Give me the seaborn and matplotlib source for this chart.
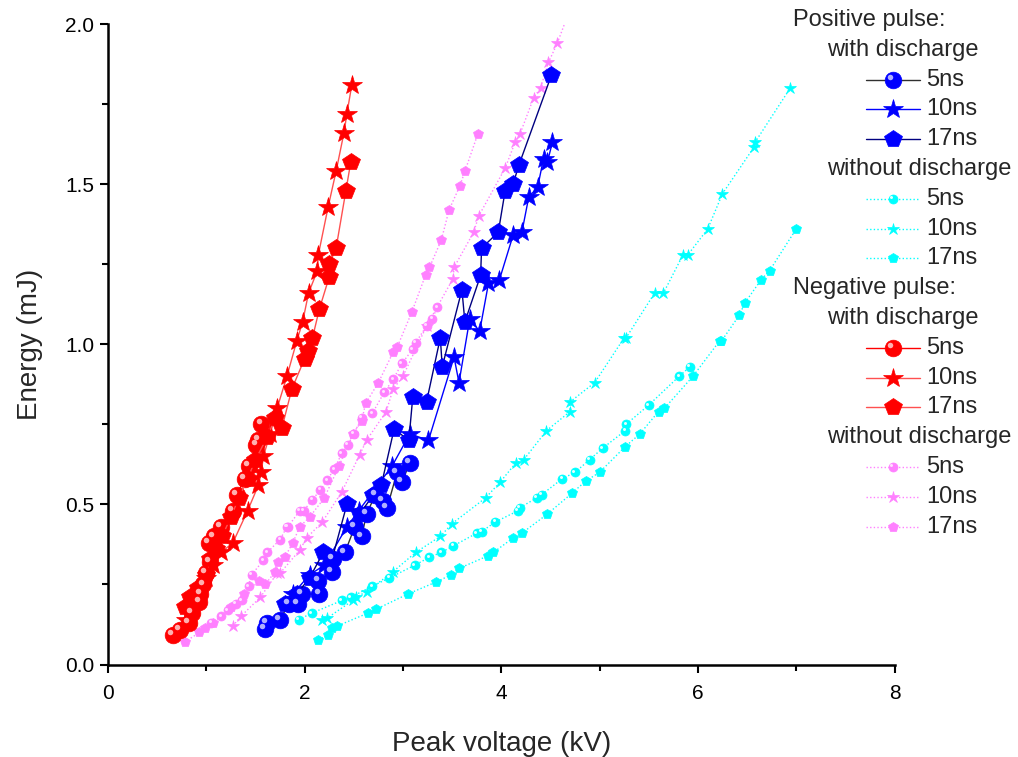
import numpy as np
import pandas as pd
import matplotlib
matplotlib.use("Agg")
import matplotlib.pyplot as plt
import matplotlib.transforms as mtransforms
from matplotlib.lines import Line2D
import seaborn as sns

# ---------------- data (Peak voltage kV, Energy mJ) ----------------
# Positive pulse, with discharge
pos_wd_5_v = [1.60, 1.62, 1.75, 1.84, 1.93, 1.97, 2.15, 2.14, 2.28, 2.29, 2.41, 2.51, 2.58, 2.63, 2.72, 2.80, 2.84, 2.94, 2.99, 3.07]
pos_wd_5_e = [0.11, 0.13, 0.14, 0.19, 0.19, 0.22, 0.22, 0.26, 0.29, 0.33, 0.35, 0.43, 0.40, 0.47, 0.53, 0.51, 0.49, 0.60, 0.57, 0.63]
pos_wd_10_v = [1.88, 2.05, 2.20, 2.43, 2.55, 2.89, 3.07, 3.26, 3.52, 3.57, 3.68, 3.78, 3.87, 3.98, 4.12, 4.21, 4.28, 4.37, 4.43, 4.47, 4.52]
pos_wd_10_e = [0.22, 0.28, 0.31, 0.43, 0.48, 0.62, 0.72, 0.70, 0.96, 0.88, 1.08, 1.04, 1.19, 1.20, 1.34, 1.35, 1.46, 1.49, 1.58, 1.57, 1.63]
pos_wd_17_v = [1.80, 1.92, 2.05, 2.19, 2.28, 2.43, 2.56, 2.70, 2.78, 2.91, 3.06, 3.10, 3.24, 3.38, 3.40, 3.60, 3.63, 3.79, 3.80, 3.97, 4.04, 4.12, 4.18, 4.51]
pos_wd_17_e = [0.19, 0.22, 0.27, 0.35, 0.33, 0.50, 0.47, 0.53, 0.56, 0.735, 0.70, 0.835, 0.82, 1.02, 0.93, 1.17, 1.07, 1.215, 1.30, 1.35, 1.48, 1.50, 1.56, 1.84]

# Positive pulse, without discharge
pos_wo_5_v = [1.94, 2.07, 2.38, 2.47, 2.69, 2.86, 3.12, 3.27, 3.39, 3.51, 3.75, 3.80, 3.94, 4.17, 4.19, 4.36, 4.41, 4.62, 4.75, 4.90, 5.03, 5.26, 5.27, 5.50, 5.81, 5.92]
pos_wo_5_e = [0.14, 0.16, 0.20, 0.21, 0.245, 0.27, 0.31, 0.335, 0.35, 0.37, 0.41, 0.415, 0.445, 0.48, 0.49, 0.52, 0.53, 0.58, 0.60, 0.64, 0.675, 0.73, 0.75, 0.81, 0.90, 0.93]
pos_wo_10_v = [2.18, 2.23, 2.49, 2.52, 2.63, 2.90, 3.13, 3.38, 3.50, 3.84, 3.99, 4.15, 4.23, 4.46, 4.70, 4.70, 4.95, 5.25, 5.27, 5.56, 5.65, 5.85, 5.90, 6.10, 6.25, 6.57, 6.58, 6.94]
pos_wo_10_e = [0.14, 0.145, 0.20, 0.21, 0.227, 0.29, 0.35, 0.40, 0.44, 0.52, 0.57, 0.63, 0.64, 0.73, 0.79, 0.82, 0.88, 1.02, 1.02, 1.16, 1.16, 1.28, 1.28, 1.36, 1.47, 1.615, 1.63, 1.80]
pos_wo_17_v = [2.14, 2.24, 2.28, 2.33, 2.64, 2.73, 3.05, 3.34, 3.49, 3.57, 3.87, 3.92, 4.12, 4.21, 4.47, 4.72, 4.86, 5.00, 5.26, 5.41, 5.60, 5.66, 5.95, 6.22, 6.24, 6.42, 6.48, 6.64, 6.73, 7.00]
pos_wo_17_e = [0.077, 0.092, 0.113, 0.12, 0.16, 0.173, 0.22, 0.258, 0.28, 0.30, 0.34, 0.35, 0.395, 0.41, 0.47, 0.535, 0.573, 0.60, 0.68, 0.72, 0.79, 0.80, 0.90, 1.01, 1.01, 1.09, 1.13, 1.20, 1.23, 1.36]

# Negative pulse, with discharge
neg_wd_5_v = [0.66, 0.73, 0.82, 0.85, 0.93, 0.94, 0.97, 1.00, 1.04, 1.03, 1.08, 1.15, 1.27, 1.31, 1.39, 1.43, 1.51, 1.53, 1.56]
neg_wd_5_e = [0.092, 0.108, 0.13, 0.16, 0.195, 0.22, 0.25, 0.285, 0.32, 0.38, 0.40, 0.43, 0.48, 0.53, 0.58, 0.62, 0.685, 0.70, 0.75]
neg_wd_10_v = [0.79, 0.85, 0.92, 1.00, 1.07, 1.15, 1.27, 1.42, 1.53, 1.56, 1.58, 1.65, 1.72, 1.82, 1.92, 1.98, 2.04, 2.13, 2.14, 2.24, 2.32, 2.40, 2.43, 2.48]
neg_wd_10_e = [0.14, 0.19, 0.22, 0.27, 0.31, 0.35, 0.38, 0.48, 0.56, 0.60, 0.65, 0.72, 0.80, 0.90, 1.01, 1.07, 1.16, 1.23, 1.28, 1.43, 1.54, 1.66, 1.72, 1.81]
neg_wd_17_v = [0.78, 0.83, 0.92, 1.00, 1.04, 1.10, 1.16, 1.25, 1.33, 1.42, 1.50, 1.62, 1.70, 1.77, 1.87, 2.00, 2.03, 2.08, 2.15, 2.25, 2.25, 2.32, 2.42, 2.47]
neg_wd_17_e = [0.18, 0.21, 0.24, 0.28, 0.33, 0.36, 0.40, 0.46, 0.52, 0.58, 0.64, 0.71, 0.77, 0.74, 0.86, 0.955, 0.98, 1.02, 1.11, 1.21, 1.25, 1.30, 1.48, 1.57]

# Negative pulse, without discharge
neg_wo_5_v = [1.05, 1.15, 1.22, 1.30, 1.36, 1.43, 1.46, 1.58, 1.62, 1.75, 1.82, 1.83, 1.95, 1.99, 2.08, 2.16, 2.23, 2.30, 2.38, 2.44, 2.50, 2.58, 2.69, 2.81, 2.90, 2.99, 3.10, 3.13, 3.24, 3.30, 3.35]
neg_wo_5_e = [0.13, 0.15, 0.17, 0.19, 0.20, 0.245, 0.28, 0.325, 0.35, 0.39, 0.43, 0.43, 0.48, 0.48, 0.515, 0.545, 0.576, 0.61, 0.66, 0.686, 0.72, 0.77, 0.785, 0.85, 0.89, 0.94, 0.985, 1.005, 1.057, 1.08, 1.116]
neg_wo_10_v = [1.27, 1.35, 1.55, 1.72, 1.75, 1.95, 2.02, 2.18, 2.38, 2.56, 2.63, 2.83, 2.90, 3.00, 3.24, 3.51, 3.52, 3.72, 3.77, 4.04, 4.14, 4.19, 4.33, 4.40, 4.48, 4.57, 4.68]
neg_wo_10_e = [0.12, 0.15, 0.21, 0.285, 0.285, 0.357, 0.395, 0.445, 0.54, 0.655, 0.70, 0.79, 0.86, 0.90, 1.057, 1.205, 1.24, 1.35, 1.40, 1.55, 1.63, 1.656, 1.77, 1.80, 1.88, 1.94, 2.03]
neg_wo_17_v = [0.78, 0.93, 0.99, 1.07, 1.25, 1.38, 1.54, 1.60, 1.70, 1.73, 1.80, 1.88, 1.95, 2.05, 2.20, 2.35, 2.49, 2.58, 2.62, 2.75, 2.90, 2.94, 3.09, 3.23, 3.27, 3.39, 3.47, 3.58, 3.63, 3.76]
neg_wo_17_e = [0.07, 0.10, 0.115, 0.13, 0.18, 0.22, 0.26, 0.25, 0.29, 0.32, 0.336, 0.38, 0.43, 0.46, 0.52, 0.62, 0.72, 0.76, 0.815, 0.88, 0.975, 0.99, 1.10, 1.216, 1.24, 1.325, 1.42, 1.495, 1.54, 1.655]

x_ticks = [0, 2, 4, 6, 8]
y_ticks = [0.0, 0.5, 1.0, 1.5, 2.0]
x_label = "Peak voltage (kV)"
y_label = "Energy (mJ)"

# ---------------- styles ----------------
BLUE, RED, CYAN, PINK = "#0000FF", "#FF0000", "#00FFFF", "#FF80FF"
DOT = (0, (1, 1.6))
series = [
    # (v, e, marker color, line color, marker, size, linestyle, lw, highlight color, zorder)
    (pos_wo_5_v, pos_wo_5_e, CYAN, CYAN, "o", 6.5, DOT, 1.0, "#e8ffff", 2),
    (pos_wo_10_v, pos_wo_10_e, CYAN, CYAN, "*", 9.0, DOT, 1.0, None, 2),
    (pos_wo_17_v, pos_wo_17_e, CYAN, CYAN, "p", 7.0, DOT, 1.0, None, 2),
    (neg_wo_5_v, neg_wo_5_e, PINK, PINK, "o", 6.5, DOT, 1.0, "#ffe0ff", 2),
    (neg_wo_10_v, neg_wo_10_e, PINK, PINK, "*", 9.0, DOT, 1.0, None, 2),
    (neg_wo_17_v, neg_wo_17_e, PINK, PINK, "p", 7.0, DOT, 1.0, None, 2),
    (pos_wd_5_v, pos_wd_5_e, BLUE, "#303030", "o", 12.0, "-", 1.0, "#b0b0ff", 3),
    (pos_wd_10_v, pos_wd_10_e, BLUE, BLUE, "*", 15.0, "-", 1.0, None, 3),
    (pos_wd_17_v, pos_wd_17_e, BLUE, "#000080", "p", 13.0, "-", 1.0, None, 3),
    (neg_wd_5_v, neg_wd_5_e, RED, RED, "o", 12.0, "-", 1.0, "#ffb0b0", 3),
    (neg_wd_10_v, neg_wd_10_e, RED, "#FF5050", "*", 15.0, "-", 1.0, None, 3),
    (neg_wd_17_v, neg_wd_17_e, RED, "#FF5050", "p", 13.0, "-", 1.0, None, 3),
]

sns.set_theme(style="ticks")
plt.rcParams["font.family"] = ["Liberation Sans", "DejaVu Sans"]

W, H = 1018, 757
fig = plt.figure(figsize=(W / 100, H / 100), dpi=100)
ax = fig.add_axes([108 / W, 1 - 664.5 / H, (894.5 - 108) / W, (664.5 - 24) / H])

for v, e, mc, lc, mk, ms, ls, lw, hc, z in series:
    df = pd.DataFrame({"V": v, "E": e})
    sns.lineplot(data=df, x="V", y="E", sort=False, estimator=None, ax=ax,
                 color=lc, linewidth=lw, linestyle=ls, marker=mk, markersize=ms,
                 markerfacecolor=mc, markeredgecolor=mc, markeredgewidth=0.5,
                 legend=False, zorder=z)
    if hc is not None:
        sns.scatterplot(data=df, x="V", y="E", ax=ax, color=hc, s=(ms * 0.33) ** 2,
                        linewidth=0, legend=False, zorder=z + 0.5,
                        transform=ax.transData + (mtransforms.ScaledTranslation(-ms * 0.17 / 72, ms * 0.17 / 72, fig.dpi_scale_trans)))

ax.set_xlim(0, 8)
ax.set_ylim(0, 2.0)
ax.set_xticks(x_ticks)
ax.set_yticks(y_ticks)
ax.set_xticklabels([f"{t:g}" for t in x_ticks])
ax.set_yticklabels([f"{t:.1f}" for t in y_ticks])
ax.set_xticks([1, 3, 5, 7], minor=True)
ax.set_yticks([0.25, 0.75, 1.25, 1.75], minor=True)
ax.set_xlabel(x_label, fontsize=20, labelpad=20)
ax.set_ylabel(y_label, fontsize=20, labelpad=16)
ax.tick_params(axis="both", which="major", direction="out", length=6, width=1.5,
               labelsize=15, color="black", labelcolor="black", pad=4)
ax.tick_params(axis="x", which="major", pad=8)
ax.tick_params(axis="both", which="minor", direction="out", length=4, width=1.5, color="black")
for s in ["top", "right"]:
    ax.spines[s].set_visible(False)
for s in ["left", "bottom"]:
    ax.spines[s].set_linewidth(1.8)
    ax.spines[s].set_color("black")

# ---------------- legend (drawn in figure space) ----------------
def fx(px):
    return px / W

def fy(py):
    return 1 - py / H

row_h = 29.8
rows = [
    ("h1", "Positive pulse:", None),
    ("h2", "with discharge", None),
    ("e", "5ns", 6), ("e", "10ns", 7), ("e", "17ns", 8),
    ("h2", "without discharge", None),
    ("e", "5ns", 0), ("e", "10ns", 1), ("e", "17ns", 2),
    ("h1", "Negative pulse:", None),
    ("h2", "with discharge", None),
    ("e", "5ns", 9), ("e", "10ns", 10), ("e", "17ns", 11),
    ("h2", "without discharge", None),
    ("e", "5ns", 3), ("e", "10ns", 4), ("e", "17ns", 5),
]
LFS = 17
for i, (kind, txt, idx) in enumerate(rows):
    y = 20 + row_h * i
    if kind == "h1":
        fig.text(fx(793), fy(y), txt, fontsize=LFS, va="center", ha="left")
    elif kind == "h2":
        fig.text(fx(827), fy(y), txt, fontsize=LFS, va="center", ha="left")
    else:
        v, e, mc, lc, mk, ms, ls, lw, hc, z = series[idx]
        ln = Line2D([fx(866), fx(893), fx(920)], [fy(y)] * 3, transform=fig.transFigure,
                    color=lc, linewidth=lw, linestyle=ls, marker=mk, markersize=ms,
                    markerfacecolor=mc, markeredgecolor=mc, markeredgewidth=0.5, markevery=[1])
        fig.add_artist(ln)
        if hc is not None:
            hl = Line2D([fx(893)], [fy(y)], transform=fig.transFigure + mtransforms.ScaledTranslation(-ms * 0.17 / 72, ms * 0.17 / 72, fig.dpi_scale_trans),
                        linestyle="none", marker="o", markersize=ms * 0.33, markerfacecolor=hc,
                        markeredgewidth=0)
            fig.add_artist(hl)
        fig.text(fx(926), fy(y), txt, fontsize=LFS, va="center", ha="left")

fig.savefig("out.png", dpi=100)
